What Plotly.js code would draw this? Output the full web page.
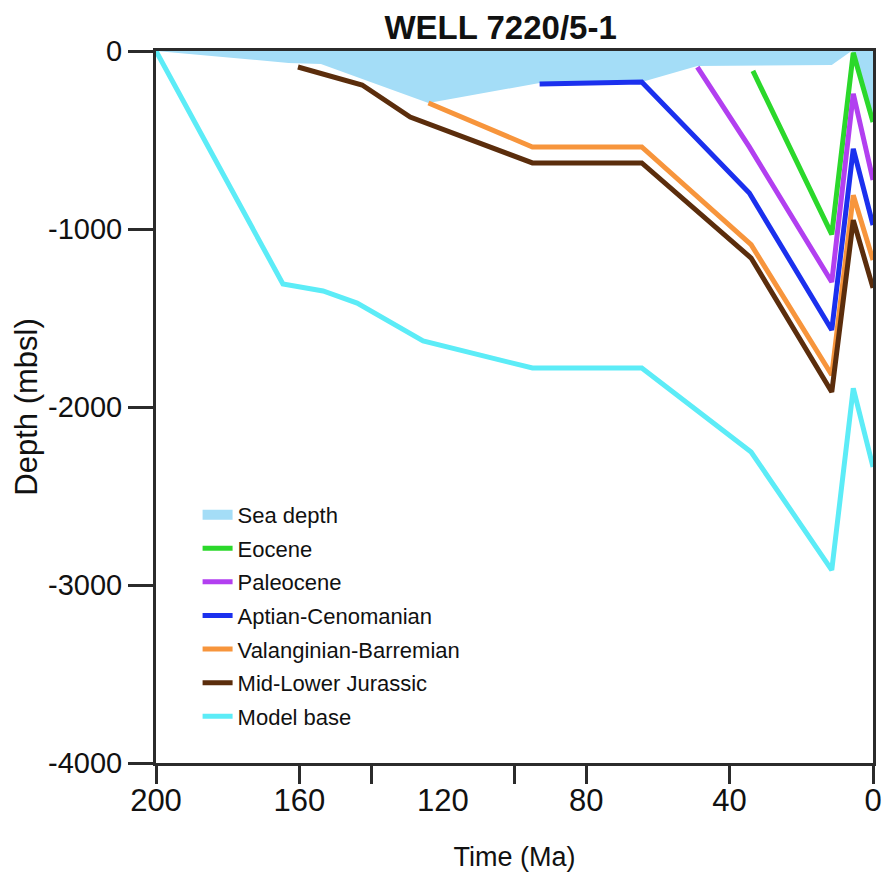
<!DOCTYPE html>
<html>
<head>
<meta charset="utf-8">
<script src="https://cdn.plot.ly/plotly-3.0.1.min.js"></script>
<style>
  html, body { margin: 0; padding: 0; background: #ffffff; }
  #chart { width: 886px; height: 879px; }
</style>
</head>
<body>
<div id="chart"></div>
<script>
// Burial history of well 7220/5-1: horizon depths (m below sea level) through time (Ma)
const seaTime   = [200, 163, 154, 124, 93, 64.5, 49, 11.5, 6, 0];
const seaDepth  = [0, -67, -73, -292, -180, -174, -84, -79, 0, -390];

const eoceneTime  = [33.5, 11.5, 5.5, 0];
const eoceneDepth = [-112, -1030, -10, -399];

const paleoceneTime  = [49, 34.5, 11.5, 5.5, 0];
const paleoceneDepth = [-90, -539, -1298, -240, -725];

const aptianTime  = [93, 64.5, 34.5, 11.5, 5.5, 0];
const aptianDepth = [-185, -174, -798, -1567, -550, -978];

const valanginianTime  = [124, 95, 64.5, 34, 11.5, 5.5, 0];
const valanginianDepth = [-292, -539, -539, -1088, -1820, -810, -1174];

const jurassicTime  = [160.4, 142.5, 129.1, 95, 64.5, 34, 11.5, 5.5, 0];
const jurassicDepth = [-90, -191, -371, -629, -629, -1163, -1916, -950, -1331];

const baseTime  = [200, 164.6, 153.4, 143.9, 125.5, 95, 64.5, 34, 11.5, 5.5, 0];
const baseDepth = [0, -1309, -1348, -1416, -1629, -1781, -1781, -2253, -2916, -1895, -2337];

const xLabelVals = [200, 160, 120, 80, 40, 0];
const xTickVals  = [200, 160, 140, 100, 80, 40, 0];
const yTickVals  = [0, -1000, -2000, -3000, -4000];
const yTickText  = ['0', '-1000', '-2000', '-3000', '-4000'];

const FONT = 'Liberation Sans, Arial, sans-serif';
const AXIS = '#2b2b2b';
const SEA = '#a4ddf7';

function horizon(name, t, d, color, group) {
  return {
    type: 'scatter', mode: 'lines', name: name, x: t, y: d,
    line: { color: color, width: 5 },
    legendgroup: group, hoverinfo: 'x+y+name'
  };
}

const traces = [
  // water column between sea level and the sea floor
  {
    type: 'scatter', mode: 'lines', name: 'Sea depth',
    x: seaTime, y: seaDepth, fill: 'tozeroy',
    fillcolor: SEA, line: { color: SEA, width: 0 },
    legendgroup: 'g0', showlegend: false
  },
  // legend key for the water column (block swatch)
  {
    type: 'scatter', mode: 'lines', name: 'Sea depth',
    x: [null], y: [null], line: { color: SEA, width: 22 },
    legendgroup: 'g0', hoverinfo: 'skip'
  },
  horizon('Eocene', eoceneTime, eoceneDepth, '#2bd82b', 'g1'),
  horizon('Paleocene', paleoceneTime, paleoceneDepth, '#b23ff0', 'g2'),
  horizon('Aptian-Cenomanian', aptianTime, aptianDepth, '#1b30ee', 'g3'),
  horizon('Valanginian-Barremian', valanginianTime, valanginianDepth, '#f7953c', 'g4'),
  horizon('Mid-Lower Jurassic', jurassicTime, jurassicDepth, '#5b2d0c', 'g5'),
  horizon('Model base', baseTime, baseDepth, '#5cecf7', 'g6'),
  // carrier for the tick-mark axis
  { type: 'scatter', mode: 'lines', x: [], y: [], xaxis: 'x2', yaxis: 'y', showlegend: false, hoverinfo: 'skip' }
];

const layout = {
  width: 886, height: 879,
  margin: { l: 156, r: 13, t: 51, b: 116 },
  paper_bgcolor: '#ffffff', plot_bgcolor: '#ffffff',
  font: { family: FONT, color: '#111111' },
  title: {
    text: '<b>WELL 7220/5-1</b>',
    font: { family: FONT, size: 33, color: '#111111' },
    x: 0.565, xanchor: 'center', y: 0.969, yanchor: 'middle'
  },
  showlegend: true,
  legend: {
    x: 0.058, y: 0.378, xanchor: 'left', yanchor: 'top',
    bgcolor: 'rgba(0,0,0,0)', borderwidth: 0,
    font: { family: FONT, size: 22, color: '#111111' },
    tracegroupgap: 2, traceorder: 'grouped'
  },
  xaxis: {
    range: [200, 0], autorange: false,
    tickmode: 'array', tickvals: xLabelVals,
    ticks: '', showticklabels: true,
    tickfont: { family: FONT, size: 31, color: '#111111' },
    ticklabelstandoff: 8,
    showline: true, linecolor: AXIS, linewidth: 3, mirror: true,
    showgrid: false, zeroline: false,
    title: { text: 'Time (Ma)', font: { family: FONT, size: 27, color: '#111111' }, standoff: 30 }
  },
  xaxis2: {
    overlaying: 'x', anchor: 'y', side: 'bottom',
    range: [200, 0], autorange: false,
    tickmode: 'array', tickvals: xTickVals,
    ticks: 'outside', ticklen: 20, tickwidth: 3, tickcolor: AXIS,
    showticklabels: false, showline: false, showgrid: false, zeroline: false
  },
  yaxis: {
    range: [-4000, 0], autorange: false,
    tickmode: 'array', tickvals: yTickVals, ticktext: yTickText,
    ticks: 'outside', ticklen: 25, tickwidth: 3, tickcolor: AXIS,
    tickfont: { family: FONT, size: 29, color: '#111111' },
    showline: true, linecolor: AXIS, linewidth: 3, mirror: true,
    showgrid: false, zeroline: false,
    title: { text: 'Depth (mbsl)', font: { family: FONT, size: 31, color: '#111111' }, standoff: 2 }
  }
};

Plotly.newPlot('chart', traces, layout, { displayModeBar: false, staticPlot: true });
</script>
</body>
</html>
